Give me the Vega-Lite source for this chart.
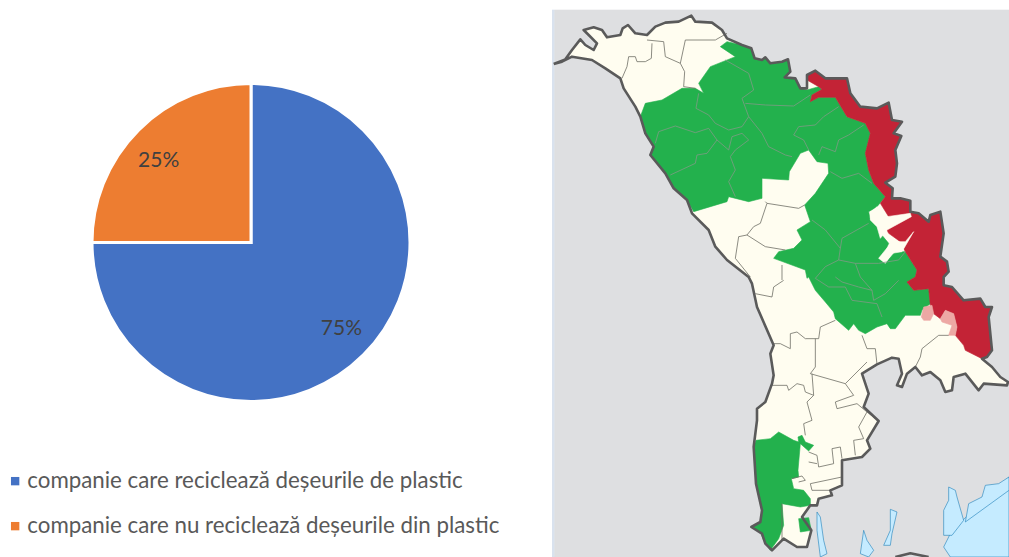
{
"$schema":"https://vega.github.io/schema/vega-lite/v6.json",
"padding":0,
"background":"white",
"spacing":50,
"config":{"view":{"stroke":null},"concat":{"spacing":50}},
"datasets":{
"pie":[{"cat":"companie care reciclează deșeurile de plastic","v":75,"ord":1,"label":"75%"},{"cat":"companie care nu reciclează deșeurile din plastic","v":25,"ord":2,"label":"25%"}],
"areas":[
{"type":"Feature","properties":{"kind":"strip"},"geometry":{"type":"Polygon","coordinates":[[[0,30],[8,30],[8,1671],[0,1671],[0,30]]]}},
{"type":"Feature","properties":{"kind":"land"},"geometry":{"type":"Polygon","coordinates":[[[8,30],[1371,30],[1371,1671],[8,1671],[8,30]]]}},
{"type":"Feature","properties":{"kind":"water"},"geometry":{"type":"Polygon","coordinates":[[[1371,1431],[1200,1591],[1175,1641],[1195,1671],[1371,1671],[1371,1431]]]}},
{"type":"Feature","properties":{"kind":"water"},"geometry":{"type":"Polygon","coordinates":[[[1190,1461],[1210,1471],[1215,1491],[1235,1561],[1200,1606],[1175,1606],[1175,1531],[1190,1501],[1190,1461]]]}},
{"type":"Feature","properties":{"kind":"water"},"geometry":{"type":"Polygon","coordinates":[[[1250,1511],[1290,1491],[1300,1456],[1340,1451],[1371,1431],[1371,1471],[1240,1566],[1250,1511]]]}},
{"type":"Feature","properties":{"kind":"water"},"geometry":{"type":"Polygon","coordinates":[[[795,1536],[805,1551],[815,1621],[825,1661],[805,1671],[795,1591],[795,1536]]]}},
{"type":"Feature","properties":{"kind":"water"},"geometry":{"type":"Polygon","coordinates":[[[1015,1528],[1035,1536],[1020,1601],[1015,1636],[995,1636],[1015,1591],[1015,1528]]]}},
{"type":"Feature","properties":{"kind":"water"},"geometry":{"type":"Polygon","coordinates":[[[935,1591],[945,1621],[965,1651],[950,1671],[925,1661],[935,1591]]]}},
{"type":"Feature","properties":{"kind":"cream"},"geometry":{"type":"Polygon","coordinates":[[[5,192],[40,178],[60,150],[85,118],[100,135],[125,150],[135,130],[110,105],[95,90],[125,82],[150,90],[165,112],[205,105],[212,85],[228,75],[250,100],[285,105],[310,80],[340,68],[380,65],[418,47],[430,65],[480,68],[510,90],[525,115],[570,135],[598,145],[608,175],[630,180],[640,172],[655,190],[690,185],[708,178],[715,215],[698,232],[730,235],[745,265],[765,265],[765,225],[790,212],[820,235],[885,235],[895,280],[925,320],[975,325],[1010,308],[1020,360],[1050,365],[1025,400],[1048,408],[1030,450],[1035,490],[1030,530],[1000,548],[1022,565],[1020,595],[1045,595],[1075,602],[1075,635],[1100,640],[1130,665],[1135,645],[1165,635],[1175,700],[1165,770],[1185,785],[1190,815],[1175,831],[1175,856],[1200,861],[1235,901],[1285,896],[1300,921],[1320,921],[1310,951],[1320,1051],[1305,1071],[1290,1076],[1320,1101],[1345,1131],[1368,1146],[1365,1156],[1295,1151],[1280,1171],[1240,1121],[1205,1131],[1200,1171],[1180,1176],[1165,1141],[1135,1116],[1110,1126],[1090,1101],[1065,1121],[1050,1161],[1035,1156],[1050,1121],[1040,1076],[1020,1073],[975,1093],[930,1121],[950,1181],[935,1221],[980,1263],[945,1321],[955,1346],[930,1371],[870,1381],[870,1456],[835,1471],[840,1486],[800,1496],[795,1516],[775,1516],[750,1551],[778,1591],[765,1641],[735,1641],[695,1616],[660,1651],[640,1631],[630,1601],[598,1581],[625,1566],[630,1531],[612,1451],[605,1341],[615,1261],[615,1226],[640,1206],[660,1151],[665,1126],[655,1061],[665,1036],[650,1001],[615,921],[600,851],[590,831],[525,780],[490,740],[470,690],[420,640],[405,600],[365,565],[340,520],[295,465],[305,440],[280,400],[265,350],[250,320],[215,265],[205,235],[160,205],[120,180],[60,170],[30,185],[5,192]]]}},
{"type":"Feature","properties":{"kind":"green"},"geometry":{"type":"Polygon","coordinates":[[[525,125],[570,135],[598,145],[608,175],[630,180],[640,172],[655,190],[690,185],[708,178],[715,215],[698,232],[730,235],[745,265],[765,270],[800,260],[810,268],[780,285],[775,305],[800,292],[850,292],[885,350],[940,370],[955,400],[940,460],[950,510],[965,550],[1000,590],[975,620],[950,635],[955,660],[975,680],[985,700],[1010,730],[1000,755],[980,775],[1000,790],[1030,755],[1060,755],[1095,810],[1090,831],[1065,846],[1085,871],[1130,866],[1135,911],[1110,931],[1105,946],[1060,946],[1030,986],[1015,986],[1005,971],[975,981],[940,1001],[920,991],[905,971],[890,991],[850,956],[845,936],[820,906],[790,871],[770,831],[765,835],[760,810],[665,775],[680,755],[725,745],[750,720],[735,690],[775,665],[758,615],[790,580],[830,520],[828,490],[795,485],[770,450],[745,460],[712,515],[710,540],[630,535],[630,595],[590,605],[530,590],[525,605],[425,635],[405,600],[365,565],[340,520],[295,465],[305,440],[280,400],[265,350],[280,310],[330,300],[390,265],[430,265],[455,280],[440,250],[475,200],[550,170],[505,140],[525,125]]]}},
{"type":"Feature","properties":{"kind":"green"},"geometry":{"type":"Polygon","coordinates":[[[612,1321],[655,1316],[680,1296],[725,1321],[740,1326],[738,1311],[750,1306],[760,1326],[785,1336],[770,1353],[745,1331],[738,1411],[740,1431],[718,1436],[725,1466],[755,1471],[775,1496],[775,1516],[745,1521],[690,1511],[695,1576],[680,1616],[655,1651],[635,1621],[625,1596],[598,1581],[625,1566],[630,1531],[612,1451],[605,1341],[612,1321]]]}},
{"type":"Feature","properties":{"kind":"green"},"geometry":{"type":"Polygon","coordinates":[[[740,1556],[770,1553],[778,1591],[745,1596],[740,1556]]]}},
{"type":"Feature","properties":{"kind":"red"},"geometry":{"type":"Polygon","coordinates":[[[765,225],[790,212],[820,235],[885,235],[895,280],[925,320],[975,325],[1010,308],[1020,360],[1050,365],[1025,400],[1048,408],[1030,450],[1035,490],[1030,530],[1000,548],[1022,565],[1020,595],[1045,595],[1075,602],[1075,635],[1100,640],[1130,665],[1135,645],[1165,635],[1175,700],[1165,770],[1185,785],[1190,815],[1175,831],[1175,856],[1200,861],[1235,901],[1285,896],[1300,921],[1320,921],[1310,951],[1320,1051],[1305,1071],[1290,1076],[1240,1051],[1235,1036],[1210,1006],[1215,981],[1205,941],[1180,931],[1165,956],[1145,941],[1135,916],[1130,866],[1085,871],[1065,846],[1090,831],[1095,810],[1060,755],[1045,725],[1010,700],[1000,680],[1010,650],[985,610],[1000,590],[965,550],[950,510],[940,460],[955,400],[940,370],[885,350],[850,292],[800,292],[775,305],[780,285],[810,268],[800,260],[765,240],[765,225]]]}},
{"type":"Feature","properties":{"kind":"cream"},"geometry":{"type":"Polygon","coordinates":[[[955,640],[975,620],[1005,650],[1075,640],[1078,650],[1005,690],[985,715],[975,680],[955,660],[955,640]]]}},
{"type":"Feature","properties":{"kind":"cream"},"geometry":{"type":"Polygon","coordinates":[[[980,775],[1020,725],[1060,725],[1085,695],[1050,755],[1020,760],[1000,790],[980,775]]]}},
{"type":"Feature","properties":{"kind":"pink"},"geometry":{"type":"Polygon","coordinates":[[[1115,921],[1140,916],[1145,941],[1135,961],[1115,961],[1108,951],[1115,921]]]}},
{"type":"Feature","properties":{"kind":"pink"},"geometry":{"type":"Polygon","coordinates":[[[1165,956],[1180,931],[1205,941],[1215,981],[1210,1006],[1190,1006],[1200,976],[1170,966],[1165,956]]]}}
],
"greenLines":[
{"type":"Feature","properties":{"n":"a"},"geometry":{"type":"MultiLineString","coordinates":[
[[520,180],[590,220],[605,270],[570,295],[590,350],[570,380],[530,390],[490,370],[470,345],[432,325],[440,280]],
[[580,310],[640,315],[725,318],[775,285]],
[[590,350],[630,400],[650,440],[700,465],[720,470]],
[[860,320],[815,350],[790,375],[740,380],[725,405],[755,420],[770,450]],
[[935,375],[890,405],[860,420],[850,455],[810,440],[800,465]],
[[310,430],[320,395],[370,378],[430,398],[470,385],[495,420],[465,460],[435,465],[430,490],[355,525]],
[[495,420],[530,450],[540,410],[570,400],[590,420],[550,450],[535,470],[550,510],[530,545],[550,590]],
[[835,515],[870,535],[920,520],[960,550]],
[[780,660],[820,690],[865,745],[870,715],[950,670]],
[[865,745],[860,780],[820,800],[790,835],[830,861],[880,861],[900,901],[975,911],[990,951]],
[[860,780],[910,790],[925,831],[960,871],[965,901],[1000,881],[1040,841]],
[[910,790],[980,790],[1040,780],[1060,755]],
[[850,831],[870,846],[920,861],[960,871]]
]}}
],
"thinLines":[
{"type":"Feature","properties":{"n":"b"},"geometry":{"type":"MultiLineString","coordinates":[
[[285,120],[335,125],[340,170],[385,190],[400,120],[490,120],[525,100]],
[[385,190],[398,215],[395,260],[430,265]],
[[300,130],[298,175],[280,185],[255,185],[250,170],[230,170],[225,200],[210,235]],
[[640,605],[645,610],[740,625],[758,615]],
[[645,610],[625,670],[605,680],[585,705],[640,740],[700,750]],
[[585,705],[560,710],[550,775],[595,831]],
[[690,795],[690,840]],
[[610,881],[660,891],[665,861],[695,841]],
[[665,1031],[685,1031],[715,1046],[715,1001],[735,996],[760,1016],[800,1016],[805,981],[850,961]],
[[790,1016],[790,1101],[775,1121]],
[[930,1006],[945,1046],[970,1046],[975,1093]],
[[660,1156],[705,1156],[710,1171],[735,1151],[755,1156],[760,1176],[785,1186]],
[[775,1121],[880,1151],[945,1086]],
[[1105,1071],[1110,1046],[1160,1006],[1190,1006]],
[[1105,1071],[1090,1101]]
]}},
{"type":"Feature","properties":{"n":"c"},"geometry":{"type":"MultiLineString","coordinates":[
[[880,1151],[905,1186],[850,1206],[855,1226],[915,1211],[945,1236]],
[[780,1121],[785,1186],[765,1206],[780,1261],[755,1271]],
[[980,1263],[945,1236],[920,1281],[935,1316],[905,1321],[910,1366]],
[[870,1376],[865,1341],[840,1346],[845,1391],[800,1401],[795,1366],[770,1356]],
[[770,1386],[795,1391]],
[[870,1431],[775,1451],[780,1471],[835,1471]],
[[720,1436],[750,1428],[760,1441],[740,1446]],
[[690,1511],[690,1621]],
[[755,1271],[760,1306]]
]}}
],
"outline":[
{"type":"Feature","properties":{"n":"o"},"geometry":{"type":"LineString","coordinates":[[5,192],[40,178],[60,150],[85,118],[100,135],[125,150],[135,130],[110,105],[95,90],[125,82],[150,90],[165,112],[205,105],[212,85],[228,75],[250,100],[285,105],[310,80],[340,68],[380,65],[418,47],[430,65],[480,68],[510,90],[525,115],[570,135],[598,145],[608,175],[630,180],[640,172],[655,190],[690,185],[708,178],[715,215],[698,232],[730,235],[745,265],[765,265],[765,225],[790,212],[820,235],[885,235],[895,280],[925,320],[975,325],[1010,308],[1020,360],[1050,365],[1025,400],[1048,408],[1030,450],[1035,490],[1030,530],[1000,548],[1022,565],[1020,595],[1045,595],[1075,602],[1075,635],[1100,640],[1130,665],[1135,645],[1165,635],[1175,700],[1165,770],[1185,785],[1190,815],[1175,831],[1175,856],[1200,861],[1235,901],[1285,896],[1300,921],[1320,921],[1310,951],[1320,1051],[1305,1071],[1290,1076],[1320,1101],[1345,1131],[1368,1146],[1365,1156],[1295,1151],[1280,1171],[1240,1121],[1205,1131],[1200,1171],[1180,1176],[1165,1141],[1135,1116],[1110,1126],[1090,1101],[1065,1121],[1050,1161],[1035,1156],[1050,1121],[1040,1076],[1020,1073],[975,1093],[930,1121],[950,1181],[935,1221],[980,1263],[945,1321],[955,1346],[930,1371],[870,1381],[870,1456],[835,1471],[840,1486],[800,1496],[795,1516],[775,1516],[750,1551],[778,1591],[765,1641],[735,1641],[695,1616],[660,1651],[640,1631],[630,1601],[598,1581],[625,1566],[630,1531],[612,1451],[605,1341],[615,1261],[615,1226],[640,1206],[660,1151],[665,1126],[655,1061],[665,1036],[650,1001],[615,921],[600,851],[590,831],[525,780],[490,740],[470,690],[420,640],[405,600],[365,565],[340,520],[295,465],[305,440],[280,400],[265,350],[250,320],[215,265],[205,235],[160,205],[120,180],[60,170],[30,185],[5,192]]}},
{"type":"Feature","properties":{"n":"p"},"geometry":{"type":"LineString","coordinates":[[1030,1671],[1075,1660],[1130,1671]]}}
]
},
"hconcat":[
{
"width":502,"height":485,
"data":{"name":"pie"},
"layer":[
{"mark":{"type":"arc","radius":159,"stroke":"white","strokeWidth":3},
"encoding":{
"theta":{"field":"v","type":"quantitative","stack":true,"scale":{"domain":[0,100]}},
"order":{"field":"ord","type":"ordinal"},
"color":{"field":"cat","type":"nominal","scale":{"domain":["companie care reciclează deșeurile de plastic","companie care nu reciclează deșeurile din plastic"],"range":["#4472C4","#ED7D31"]},
"legend":{"orient":"none","legendX":4,"legendY":470,"title":null,"symbolType":"square","symbolSize":70,"symbolStrokeWidth":0,"labelFont":"Lato","labelFontSize":22.3,"labelColor":"#595959","labelLimit":520,"rowPadding":22,"labelOffset":1}}}},
{"mark":{"type":"text","radius":125,"font":"Lato","fontSize":21,"color":"#404040","dx":{"expr":"datum.ord==2?-4:2"},"dy":{"expr":"datum.ord==2?7:-2"}},
"encoding":{
"theta":{"field":"v","type":"quantitative","stack":true,"scale":{"domain":[0,100]}},
"order":{"field":"ord","type":"ordinal"},
"detail":{"field":"ord","type":"ordinal"},
"text":{"field":"label","type":"nominal"}}}
]
},
{
"width":457,"height":557,
"projection":{"type":"identity","scale":0.33333,"translate":[0,0]},
"layer":[
{"data":{"name":"areas"},"mark":{"type":"geoshape","strokeWidth":0.6},
"encoding":{
"fill":{"field":"properties.kind","type":"nominal","legend":null,"scale":{"domain":["strip","land","water","cream","green","red","pink"],"range":["#d9e2ee","#dedfe1","#c5ebff","#fffdf0","#23b14d","#c32336","#eda8a4"]}},
"stroke":{"field":"properties.kind","type":"nominal","legend":null,"scale":{"domain":["strip","land","water","cream","green","red","pink"],"range":["#d9e2ee","#dedfe1","#1f7fb8","#fffdf0","#23b14d","#c32336","#eda8a4"]}}}},
{"data":{"name":"greenLines"},"mark":{"type":"geoshape","filled":false,"stroke":"#7f9a85","strokeWidth":0.8},"encoding":{}},
{"data":{"name":"thinLines"},"mark":{"type":"geoshape","filled":false,"stroke":"#6e6e66","strokeWidth":0.8},"encoding":{}},
{"data":{"name":"outline"},"mark":{"type":"geoshape","filled":false,"stroke":"#5a5a5a","strokeWidth":2.6,"strokeJoin":"round"},"encoding":{}}
]
}
],
"resolve":{"scale":{"color":"independent"}}
}
